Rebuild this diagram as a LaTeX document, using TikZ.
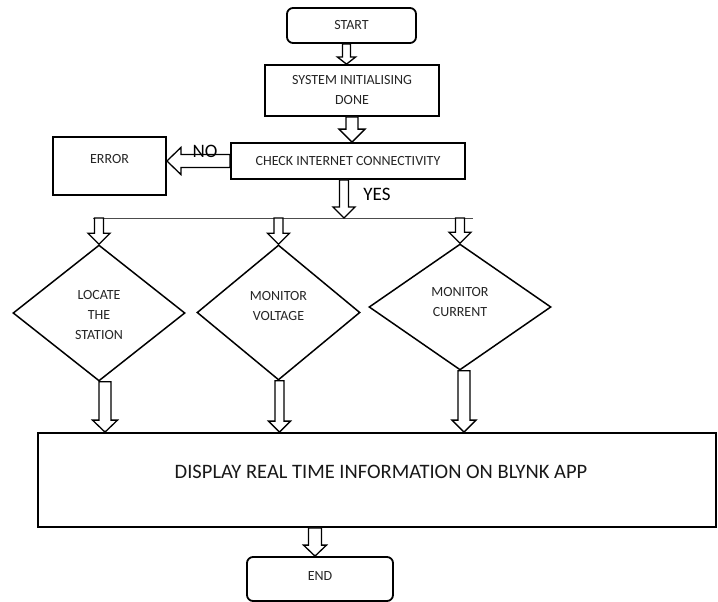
\documentclass[tikz,border=0pt]{standalone}
\usepackage{fontspec}
\setmainfont{Carlito}
\usetikzlibrary{shapes.geometric,calc}
\tikzset{
  box/.style={draw=black, line width=1.8pt, rectangle, inner sep=0pt, font=\fontsize{14}{20}\selectfont, align=center, text=black!85},
  rbox/.style={box, rounded corners=6pt},
  dia/.style={draw=black, line width=1.5pt, diamond, inner sep=0pt, font=\fontsize{14}{20}\selectfont, align=center, text=black!85},
  harrow/.style={draw=black, line width=1.3pt, fill=white, line join=miter},
  lbl/.style={font=\fontsize{19}{22}\selectfont, text=black}
}
\newcommand\hdown[5]{\draw[harrow] let \p1=(#1), \p2=(#2) in
  (\x1-#3pt,\y1) -- (\x1-#3pt,\y2+#5pt) -- (\x1-#4pt,\y2+#5pt) -- (\x1,\y2) --
  (\x1+#4pt,\y2+#5pt) -- (\x1+#3pt,\y2+#5pt) -- (\x1+#3pt,\y1) -- cycle;}
\newcommand\hleft[5]{\draw[harrow] let \p1=(#1), \p2=(#2) in
  (\x1,\y1+#3pt) -- (\x2+#5pt,\y1+#3pt) -- (\x2+#5pt,\y1+#4pt) -- (\x2,\y1) --
  (\x2+#5pt,\y1-#4pt) -- (\x2+#5pt,\y1-#3pt) -- (\x1,\y1-#3pt) -- cycle;}
\begin{document}
\begin{tikzpicture}[x=1pt,y=-1pt]
\useasboundingbox[fill=white] (0,0) rectangle (718,602);
% boxes
\node[rbox, minimum width=129pt, minimum height=35pt] (start) at (351.5,25.5) {START};
\node[box, minimum width=174pt, minimum height=51pt] (sys) at (352,90.5) {SYSTEM INITIALISING\\DONE};
\node[box, minimum width=234pt, minimum height=36pt] (check) at (348,161) {CHECK INTERNET CONNECTIVITY};
\node[box, minimum width=113pt, minimum height=58pt,
  label={[font=\fontsize{14}{20}\selectfont, text=black!85, yshift=7pt]center:ERROR}] (error) at (109.5,166) {};
% branch line
\coordinate (bl) at (93,218);
\coordinate (br) at (473,218);
\draw[line width=0.8pt, black!70] (bl) -- (br);
% diamonds
\node[dia, minimum width=172pt, minimum height=136pt,
  label={[font=\fontsize{14}{20}\selectfont, text=black!85, align=center, yshift=-2pt]center:LOCATE\\THE\\STATION}] (d1) at (99,313) {};
\node[dia, minimum width=163pt, minimum height=135pt,
  label={[font=\fontsize{14}{20}\selectfont, text=black!85, align=center, yshift=6pt]center:MONITOR\\VOLTAGE}] (d2) at (278.5,312.5) {};
\node[dia, minimum width=182pt, minimum height=126pt,
  label={[font=\fontsize{14}{20}\selectfont, text=black!85, align=center, yshift=5pt]center:MONITOR\\CURRENT}] (d3) at (460,307) {};
% display
\node[box, minimum width=678pt, minimum height=94pt,
  label={[font=\fontsize{20.5}{24}\selectfont, text=black!90, xshift=4pt, yshift=8pt]center:DISPLAY REAL TIME INFORMATION ON BLYNK APP}] (disp) at (377,480) {};
\node[rbox, minimum width=146pt, minimum height=44pt,
  label={[font=\fontsize{14}{20}\selectfont, text=black!85, yshift=3pt]center:END}] (end) at (320,579) {};
% arrows
\hdown{[xshift=-5pt]start.south}{sys.north}{4}{9}{7}
\hdown{sys.south}{check.north}{6}{13}{13}
\hleft{check.west}{error.east}{6.5}{13.5}{14}
\hdown{[xshift=-4pt]check.south}{bl}{4.5}{11}{11}
\hdown{bl -| d1.north}{d1.north}{4.5}{11}{11}
\hdown{bl -| d2.north}{d2.north}{4.5}{11}{11}
\hdown{bl -| d3.north}{d3.north}{4.5}{11}{11}
\hdown{[xshift=6pt]d1.south}{disp.north}{6}{12.5}{12}
\hdown{[xshift=1pt]d2.south}{disp.north}{4.5}{11}{11}
\hdown{[xshift=4pt]d3.south}{disp.north}{6}{12}{12}
\hdown{[xshift=-62pt]disp.south}{end.north}{6.5}{11.5}{11}
% labels
\node[lbl] (no) at (205,151) {NO};
\node[lbl] (yes) at (377,194) {YES};
\end{tikzpicture}
\end{document}
